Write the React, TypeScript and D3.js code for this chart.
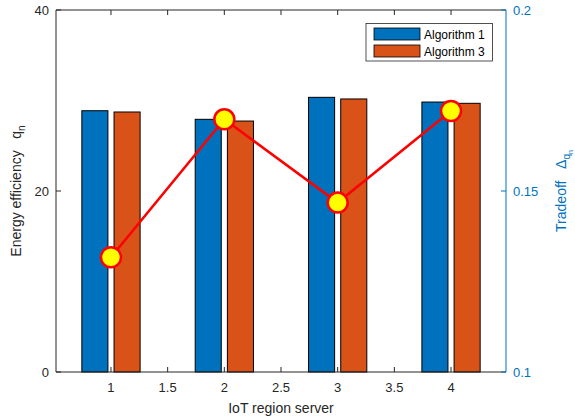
import React from "react";
import * as d3 from "d3";

const servers = [1, 2, 3, 4];
const algorithm1 = [28.87, 27.92, 30.35, 29.83];
const algorithm3 = [28.73, 27.73, 30.17, 29.69];
const tradeoff = [0.1317, 0.1698, 0.1468, 0.1721];
const xTicks = [1, 1.5, 2, 2.5, 3, 3.5, 4];
const leftTicks = [0, 20, 40];
const rightTicks = [0.1, 0.15, 0.2];
const seriesNames = ["Algorithm 1", "Algorithm 3"];

const W = 575, H = 420;
const L = 56, R = 506, T = 10, B = 372;
const AX = "#262626";
const BLUE = "#0072BD";
const ORANGE = "#D95319";
const FONT = "'Liberation Sans', Arial, Helvetica, sans-serif";

export default function App() {
  const x = d3.scaleLinear().domain([0.515, 4.485]).range([L, R]);
  const yL = d3.scaleLinear().domain([0, 40]).range([B, T]);
  const yR = d3.scaleLinear().domain([0.1, 0.2]).range([B, T]);
  const off = 0.142;
  const bw = 0.23;
  const bwPx = x(bw) - x(0);
  const line = d3
    .line<number>()
    .x((_, i) => x(servers[i]))
    .y((d) => yR(d));
  const series = [algorithm1, algorithm3];
  const colors = [BLUE, ORANGE];
  const tick = 5;

  return (
    <svg width={W} height={H} style={{ position: "absolute", left: 0, top: 0 }} fontFamily={FONT}>
      <rect x={0} y={0} width={W} height={H} fill="#fff" />
      {series.map((vals, s) =>
        vals.map((v, i) => {
          const cx = x(servers[i] + (s === 0 ? -off : off));
          return (
            <rect
              key={`b${s}-${i}`}
              x={cx - bwPx / 2}
              y={yL(v)}
              width={bwPx}
              height={yL(0) - yL(v)}
              fill={colors[s]}
              stroke="#000"
              strokeWidth={1}
            />
          );
        })
      )}
      <line x1={L} x2={R} y1={B} y2={B} stroke={AX} strokeWidth={1} />
      <line x1={L} x2={R} y1={T} y2={T} stroke={AX} strokeWidth={1} />
      <line x1={L} x2={L} y1={T} y2={B} stroke={AX} strokeWidth={1} />
      <line x1={R} x2={R} y1={T} y2={B} stroke={BLUE} strokeWidth={1} />
      {xTicks.map((t) => (
        <g key={`xt${t}`}>
          <line x1={x(t)} x2={x(t)} y1={B} y2={B - tick} stroke={AX} />
          <line x1={x(t)} x2={x(t)} y1={T} y2={T + tick} stroke={AX} />
          <text x={x(t)} y={B + 20} textAnchor="middle" fontSize={13} fill={AX}>
            {t}
          </text>
        </g>
      ))}
      {leftTicks.map((t) => (
        <g key={`yl${t}`}>
          <line x1={L} x2={L + tick} y1={yL(t)} y2={yL(t)} stroke={AX} />
          <text x={L - 7} y={yL(t) + 5} textAnchor="end" fontSize={13} fill={AX}>
            {t}
          </text>
        </g>
      ))}
      {rightTicks.map((t) => (
        <g key={`yr${t}`}>
          <line x1={R} x2={R - tick} y1={yR(t)} y2={yR(t)} stroke={BLUE} />
          <text x={R + 7} y={yR(t) + 5} textAnchor="start" fontSize={13} fill={BLUE}>
            {t}
          </text>
        </g>
      ))}
      <path d={line(tradeoff) || ""} fill="none" stroke="#FF0000" strokeWidth={2.5} />
      {tradeoff.map((v, i) => (
        <circle key={`m${i}`} cx={x(servers[i])} cy={yR(v)} r={10} fill="#FFFF00" stroke="#FF0000" strokeWidth={2.5} />
      ))}
      <rect x={366} y={23.5} width={126.5} height={37.5} fill="#fff" stroke={AX} strokeWidth={0.8} />
      {seriesNames.map((n, i) => (
        <g key={`lg${i}`}>
          <rect x={374} y={28 + i * 17} width={46} height={12} fill={colors[i]} stroke="#000" strokeWidth={0.8} />
          <text x={424} y={38.5 + i * 17} fontSize={12} fill="#000">
            {n}
          </text>
        </g>
      ))}
      <text x={281} y={413} textAnchor="middle" fontSize={14} fill={AX}>
        IoT region server
      </text>
      <text
        transform={`translate(21,${(T + B) / 2}) rotate(-90)`}
        textAnchor="middle"
        fontSize={14}
        fill={AX}
        style={{ whiteSpace: "pre" }}
      >
        {"Energy efficiency   q"}
        <tspan fontSize={10} dy={4}>n</tspan>
      </text>
      <text
        transform={`translate(566,${(T + B) / 2}) rotate(-90)`}
        textAnchor="middle"
        fontSize={14}
        fill={BLUE}
        style={{ whiteSpace: "pre" }}
      >
        {"Tradeoff   Δ"}
        <tspan fontSize={10} dy={4}>q</tspan>
        <tspan fontSize={7} dy={3}>n</tspan>
      </text>
    </svg>
  );
}
